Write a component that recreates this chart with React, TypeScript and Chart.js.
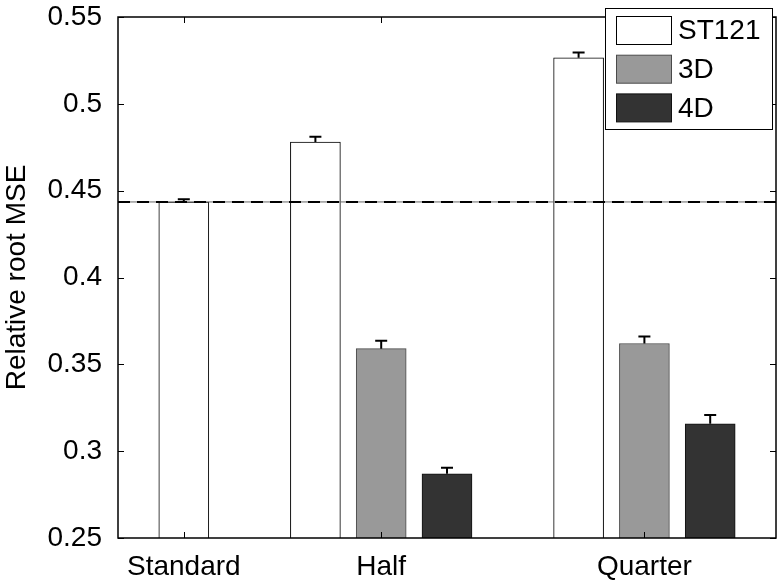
import React, { useEffect, useRef } from 'react';
import { Chart, registerables } from 'chart.js';

Chart.register(...registerables);

// ---- data ----
const categories = ['Standard', 'Half', 'Quarter'];
const categorySlots = [0, 3, 7];
const seriesNames = ['ST121', '3D', '4D'];

const st121Slots = [0, 2, 6];
const st121Values = [0.4435, 0.478, 0.5265];
const st121Errors = [0.0015, 0.003, 0.003];

const d3Slots = [3, 7];
const d3Values = [0.359, 0.362];
const d3Errors = [0.0046, 0.004];

const d4Slots = [4, 8];
const d4Values = [0.287, 0.3158];
const d4Errors = [0.0035, 0.005];

const referenceLevel = 0.4435;
const yTickValues = [0.25, 0.3, 0.35, 0.4, 0.45, 0.5, 0.55];
const yMin = 0.25;
const yMax = 0.55;
const xMin = -1;
const xMax = 9;

// ---- styles ----
const FONT = "'Liberation Sans', Arial, Helvetica, sans-serif";
const FONT_SIZE = 28;
const fills = ['#ffffff', '#999999', '#333333'];
const borders = ['#000000', '#4a4a4a', '#111111'];

const toPoints = (xs: number[], ys: number[]) => xs.map((x, i) => ({ x, y: ys[i] }));

const overlayPlugin = {
  id: 'overlay',
  afterDatasetsDraw(chart: any) {
    const { ctx, chartArea, scales } = chart;
    const xs = scales.x;
    const ys = scales.y;
    ctx.save();
    // error bars (upper only)
    chart.data.datasets.forEach((ds: any, i: number) => {
      const meta = chart.getDatasetMeta(i);
      meta.data.forEach((el: any, j: number) => {
        const v = ds.data[j].y;
        const e = ds.errors[j];
        const yTop = ys.getPixelForValue(v + e);
        const yBar = ys.getPixelForValue(v);
        ctx.strokeStyle = '#000';
        ctx.lineWidth = 2;
        ctx.beginPath();
        ctx.moveTo(el.x, yBar);
        ctx.lineTo(el.x, yTop);
        ctx.moveTo(el.x - 6, yTop);
        ctx.lineTo(el.x + 6, yTop);
        ctx.stroke();
      });
    });
    // reference line
    const yRef = ys.getPixelForValue(referenceLevel);
    ctx.strokeStyle = '#666';
    ctx.lineWidth = 1;
    ctx.setLineDash([]);
    ctx.beginPath();
    ctx.moveTo(chartArea.left, yRef);
    ctx.lineTo(chartArea.right, yRef);
    ctx.stroke();
    ctx.strokeStyle = '#000';
    ctx.lineWidth = 2;
    ctx.setLineDash([12, 7]);
    ctx.beginPath();
    ctx.moveTo(chartArea.left, yRef);
    ctx.lineTo(chartArea.right, yRef);
    ctx.stroke();
    ctx.setLineDash([]);
    // box
    ctx.strokeStyle = '#000';
    ctx.lineWidth = 1.5;
    ctx.strokeRect(chartArea.left, chartArea.top, chartArea.right - chartArea.left, chartArea.bottom - chartArea.top);
    // inward ticks
    ctx.lineWidth = 1;
    const tl = 6;
    ctx.beginPath();
    categorySlots.forEach((s) => {
      const x = Math.round(xs.getPixelForValue(s)) + 0.5;
      ctx.moveTo(x, chartArea.bottom);
      ctx.lineTo(x, chartArea.bottom - tl);
      ctx.moveTo(x, chartArea.top);
      ctx.lineTo(x, chartArea.top + tl);
    });
    yTickValues.forEach((v) => {
      const y = Math.round(ys.getPixelForValue(v)) + 0.5;
      ctx.moveTo(chartArea.left, y);
      ctx.lineTo(chartArea.left + tl, y);
      ctx.moveTo(chartArea.right, y);
      ctx.lineTo(chartArea.right - tl, y);
    });
    ctx.stroke();
    ctx.restore();
  },
  afterDraw(chart: any) {
    const { ctx } = chart;
    ctx.save();
    const bx = 605.5, by = 8.5, bw = 167, bh = 121;
    ctx.fillStyle = '#fff';
    ctx.fillRect(bx, by, bw, bh);
    ctx.strokeStyle = '#000';
    ctx.lineWidth = 1;
    ctx.strokeRect(bx, by, bw, bh);
    ctx.font = `${FONT_SIZE}px ${FONT}`;
    ctx.textBaseline = 'middle';
    ctx.textAlign = 'left';
    seriesNames.forEach((name, i) => {
      const sy = 16.5 + i * 38.7;
      ctx.fillStyle = fills[i];
      ctx.fillRect(616.5, sy, 55, 28);
      ctx.strokeStyle = borders[i];
      ctx.lineWidth = 1;
      ctx.strokeRect(616.5, sy, 55, 28);
      ctx.fillStyle = '#000';
      ctx.fillText(name, 678, sy + 15);
    });
    ctx.restore();
  },
};

export default function App() {
  const canvasRef = useRef<HTMLCanvasElement | null>(null);

  useEffect(() => {
    const canvas = canvasRef.current;
    if (!canvas) return;
    const mk = (label: string, xs: number[], vals: number[], errs: number[], i: number) => ({
      label,
      data: toPoints(xs, vals),
      errors: errs,
      backgroundColor: fills[i],
      borderColor: borders[i],
      borderWidth: 1,
      borderSkipped: false,
      barThickness: 50,
      grouped: false,
    });
    const chart = new Chart(canvas, {
      type: 'bar',
      data: {
        datasets: [
          mk(seriesNames[0], st121Slots, st121Values, st121Errors, 0),
          mk(seriesNames[1], d3Slots, d3Values, d3Errors, 1),
          mk(seriesNames[2], d4Slots, d4Values, d4Errors, 2),
        ] as any,
      },
      options: {
        animation: false,
        responsive: false,
        maintainAspectRatio: false,
        layout: { padding: { top: 17, right: 7, bottom: 0, left: 0 } },
        plugins: { legend: { display: false }, tooltip: { enabled: false } },
        scales: {
          x: {
            type: 'linear',
            min: xMin,
            max: xMax,
            offset: false,
            grid: { display: false, drawTicks: false, offset: false },
            border: { display: false },
            afterBuildTicks: (scale: any) => {
              scale.ticks = categorySlots.map((v) => ({ value: v }));
            },
            afterFit: (scale: any) => {
              scale.height = 44;
              scale.paddingLeft = 0;
              scale.paddingRight = 0;
            },
            ticks: {
              padding: 12,
              color: '#000',
              font: { family: FONT, size: FONT_SIZE },
              callback: (v: any) => {
                const idx = categorySlots.indexOf(Number(v));
                return idx >= 0 ? categories[idx] : '';
              },
              maxRotation: 0,
              autoSkip: false,
            },
          },
          y: {
            type: 'linear',
            min: yMin,
            max: yMax,
            grid: { display: false, drawTicks: false },
            border: { display: false },
            afterBuildTicks: (scale: any) => {
              scale.ticks = yTickValues.map((v) => ({ value: v }));
            },
            afterFit: (scale: any) => {
              scale.width = 118;
              scale.paddingTop = 0;
              scale.paddingBottom = 0;
            },
            ticks: {
              padding: 16,
              color: '#000',
              font: { family: FONT, size: FONT_SIZE },
              callback: (v: any) => String(Number(Number(v).toFixed(2))),
            },
            title: {
              display: true,
              text: 'Relative root MSE',
              color: '#000',
              font: { family: FONT, size: FONT_SIZE },
              padding: { top: 0, bottom: 0 },
            },
          },
        },
      } as any,
      plugins: [overlayPlugin],
    });
    return () => chart.destroy();
  }, []);

  return (
    <div style={{ position: 'absolute', left: 0, top: 0, width: 783, height: 582, background: '#fff' }}>
      <canvas ref={canvasRef} width={783} height={582} style={{ width: 783, height: 582, display: 'block' }} />
    </div>
  );
}
